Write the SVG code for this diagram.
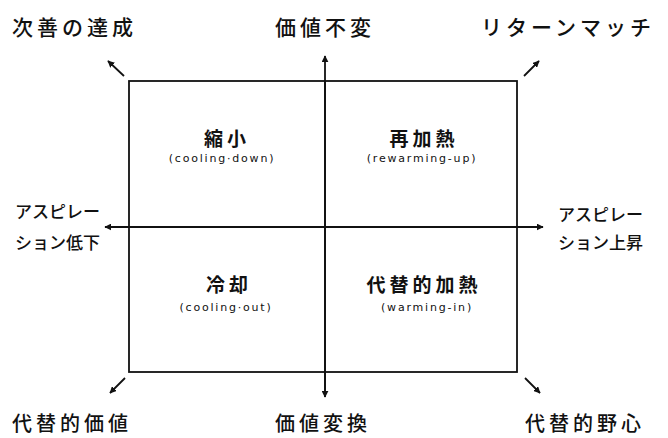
<svg xmlns="http://www.w3.org/2000/svg" width="668" height="438" viewBox="0 0 668 438">
<style>
.big{font-family:"Noto Sans CJK JP","Noto Sans",sans-serif;font-size:21px;font-weight:500;fill:#111;letter-spacing:4px}
.bot{font-size:20px}
.side{font-family:"Noto Sans CJK JP","Noto Sans",sans-serif;font-size:17px;font-weight:500;fill:#111}
.q{font-family:"Noto Sans CJK JP","Noto Sans",sans-serif;font-size:19px;font-weight:700;fill:#111;letter-spacing:4px;text-anchor:middle}
.en{font-family:"DejaVu Sans","Noto Sans",sans-serif;font-size:11px;fill:#111;letter-spacing:1.8px;text-anchor:middle}
.ln{stroke:#111;stroke-width:1.8;fill:none}
</style>
<defs>
<marker id="ah" viewBox="0 0 10 10" refX="9" refY="5" markerWidth="7" markerHeight="7" markerUnits="userSpaceOnUse" orient="auto">
<path d="M0,0 L10,5 L0,10 z" fill="#111"/>
</marker>
</defs>
<rect width="668" height="438" fill="#fff"/>
<g id="frame">
<rect x="129" y="81" width="388" height="291" class="ln"/>
</g>
<g id="connectors">
<line x1="325" y1="397" x2="325" y2="56" class="ln" marker-end="url(#ah)"/>
<line x1="325" y1="81" x2="325" y2="397" class="ln" marker-end="url(#ah)"/>
<line x1="543" y1="227" x2="105" y2="227" class="ln" marker-end="url(#ah)"/>
<line x1="129" y1="227" x2="543" y2="227" class="ln" marker-end="url(#ah)"/>
<line x1="124" y1="76" x2="108" y2="61" class="ln" marker-end="url(#ah)"/>
<line x1="524" y1="76" x2="539" y2="61" class="ln" marker-end="url(#ah)"/>
<line x1="125" y1="378" x2="110" y2="393" class="ln" marker-end="url(#ah)"/>
<line x1="525" y1="378" x2="540" y2="393" class="ln" marker-end="url(#ah)"/>
</g>
<g id="top-left"><text class="big" x="12" y="35">次善の達成</text></g>
<g id="top-center"><text class="big" x="275" y="35">価値不変</text></g>
<g id="top-right"><text class="big" x="481" y="35">リターンマッチ</text></g>
<g id="bottom-left"><text class="big bot" x="12" y="431" letter-spacing="5">代替的価値</text></g>
<g id="bottom-center"><text class="big bot" x="275" y="431" letter-spacing="5">価値変換</text></g>
<g id="bottom-right"><text class="big bot" x="525" y="431" letter-spacing="7">代替的野心</text></g>
<g id="left"><text class="side" x="15" y="218">アスピレー</text><text class="side" x="15" y="249">ション低下</text></g>
<g id="right"><text class="side" x="558" y="221">アスピレー</text><text class="side" x="558" y="249">ション上昇</text></g>
<g id="q-cooling-down"><text class="q" x="227" y="146">縮小</text><text class="en" x="222" y="162">(cooling·down)</text></g>
<g id="q-rewarming-up"><text class="q" x="424" y="146">再加熱</text><text class="en" x="422" y="162">(rewarming-up)</text></g>
<g id="q-cooling-out"><text class="q" x="229" y="292">冷却</text><text class="en" x="226" y="311">(cooling·out)</text></g>
<g id="q-warming-in"><text class="q" x="424" y="292">代替的加熱</text><text class="en" x="427" y="311">(warming-in)</text></g>
</svg>
